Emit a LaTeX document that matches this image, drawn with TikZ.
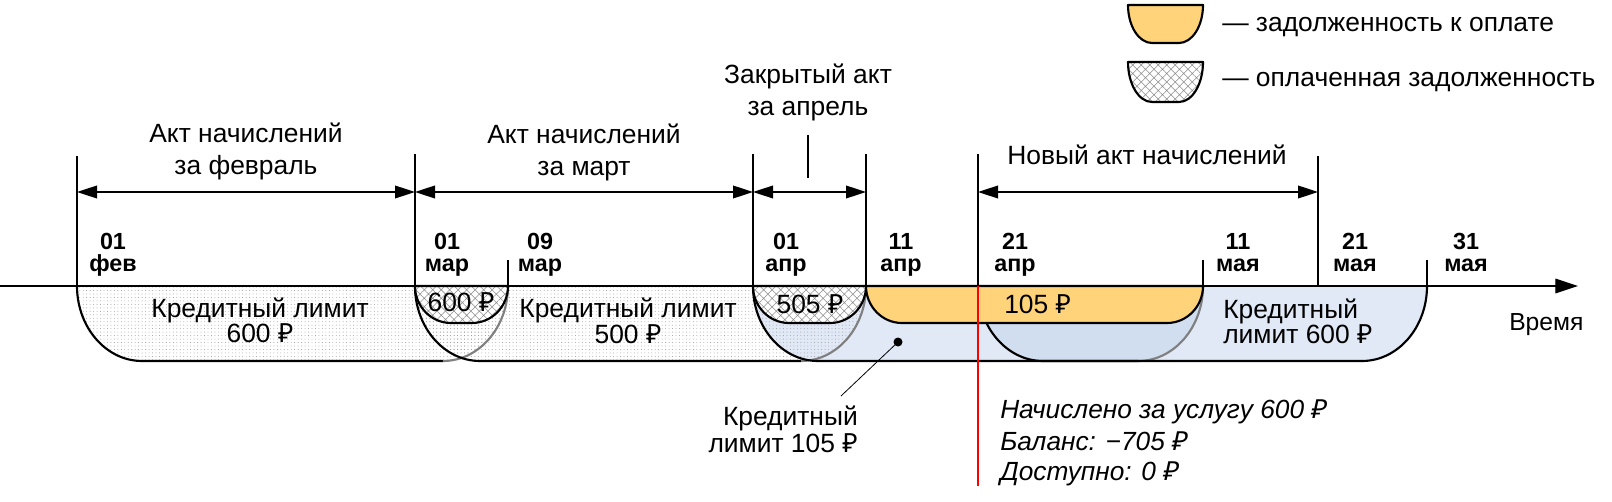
\documentclass[tikz,border=0pt]{standalone}
\usepackage{fontspec}
\setmainfont{Liberation Sans}
\newfontfamily\rubfont{Noto Sans}
\newcommand{\rub}{{\rubfont ₽}}
\usetikzlibrary{arrows.meta,patterns.meta}
\definecolor{debt}{RGB}{255,211,122}
\definecolor{lim}{RGB}{225,233,246}
\definecolor{limdark}{RGB}{209,222,240}
% x1 x2 ytop depth rx
\newcommand{\bowlpath}[5]{({#1},{#3}) .. controls ({#1},{#3+0.552*#4}) and ({#1+0.448*#5},{#3+#4}) .. ({#1+#5},{#3+#4}) -- ({#2-#5},{#3+#4}) .. controls ({#2-0.448*#5},{#3+#4}) and ({#2},{#3+0.552*#4}) .. ({#2},{#3}) -- cycle}
\newcommand{\bowlleft}[5]{({#1},{#3}) .. controls ({#1},{#3+0.552*#4}) and ({#1+0.448*#5},{#3+#4}) .. ({#1+#5},{#3+#4}) -- ({#2-#5},{#3+#4})}
\newcommand{\bowlright}[5]{({#2-#5},{#3+#4}) .. controls ({#2-0.448*#5},{#3+#4}) and ({#2},{#3+0.552*#4}) .. ({#2},{#3})}
\begin{document}
\begin{tikzpicture}[x=0.75pt,y=-0.75pt,
  lbl/.style={font=\fontsize{19.8}{22}\selectfont, inner sep=0pt, anchor=base},
  leglbl/.style={font=\fontsize{19.8}{22}\selectfont, inner sep=0pt, anchor=base west},
  itl/.style={font=\fontsize{19.7}{22}\selectfont\itshape, inner sep=0pt, anchor=base west},
  datelbl/.style={font=\fontsize{17.5}{18}\selectfont\bfseries, inner sep=0pt, anchor=base},
  ext/.style={line width=1.2pt},
  dim/.style={line width=1.2pt, {Triangle[length=15pt,width=9.5pt]}-{Triangle[length=15pt,width=9.5pt]}},
  outl/.style={line width=1.6pt, line join=round},
  farc/.style={line width=1.6pt, gray},
  dotfill/.style={pattern={Dots[distance=2.6pt,radius=0.35pt]}, pattern color=gray!80},
  hatchfill/.style={pattern={Hatch[angle=45,distance=4.5pt,line width=0.4pt]}, pattern color=gray!90},
]
\useasboundingbox (0,0) rectangle (1612,502);

% date coordinates on the axis
\coordinate (feb1) at (77,286);
\coordinate (mar1) at (415,286);
\coordinate (mar9) at (508,286);
\coordinate (apr1) at (753,286);
\coordinate (apr11) at (866,286);
\coordinate (apr21) at (978,286);
\coordinate (may11) at (1203,286);
\coordinate (may21) at (1318,286);
\coordinate (may31) at (1427,286);
\coordinate (axstart) at (0,286);
\coordinate (axend) at (1578,286);
\coordinate (arrY) at (0,192);

% credit limit fills (blue)
\fill[lim] \bowlpath{753}{1203}{286}{75}{65};
\fill[lim] \bowlpath{978}{1427}{286}{75}{65};
\begin{scope}
  \clip \bowlpath{753}{1203}{286}{75}{65};
  \fill[limdark] \bowlpath{978}{1427}{286}{75}{65};
\end{scope}
% dotted credit limits
\path[dotfill] \bowlpath{77}{508}{286}{75}{65};
\path[dotfill] \bowlpath{415}{866}{286}{75}{65};

% outlines of credit limits
\draw[outl] \bowlleft{77}{508}{286}{75}{65};
\draw[farc] \bowlright{77}{508}{286}{75}{65};
\draw[outl] \bowlleft{415}{866}{286}{75}{65};
\draw[farc] \bowlright{415}{866}{286}{75}{65};
\draw[outl] \bowlleft{753}{1203}{286}{75}{65};
\draw[farc] \bowlright{753}{1203}{286}{75}{65};
\draw[outl] \bowlleft{978}{1427}{286}{75}{65};
\draw[outl] \bowlright{978}{1427}{286}{75}{65};

% paid debts
\fill[white] \bowlpath{415}{508}{286}{37}{36};
\path[hatchfill] \bowlpath{415}{508}{286}{37}{36};
\draw[outl] \bowlpath{415}{508}{286}{37}{36};
\fill[white] \bowlpath{753}{866}{286}{37}{36};
\path[hatchfill] \bowlpath{753}{866}{286}{37}{36};
\draw[outl] \bowlpath{753}{866}{286}{37}{36};
% debt to pay
\draw[outl, fill=debt] \bowlpath{866}{1203}{286}{37}{36};

% time axis
\draw[line width=0.8pt, -{Triangle[length=17pt,width=11pt]}] (axstart) -- (axend);
\draw[line width=1.6pt] (feb1) -- (may31);

% extension lines
\draw[ext] (feb1) -- ++(0,-130);
\draw[ext] (mar1) -- ++(0,-132);
\draw[ext] (apr1) -- ++(0,-132);
\draw[ext] (apr11) -- ++(0,-132);
\draw[ext] (apr21) -- ++(0,-132);
\draw[ext] (may21) -- ++(0,-130);
\draw[ext] (mar9) -- ++(0,-26);
\draw[ext] (may11) -- ++(0,-26);
\draw[ext] (may31) -- ++(0,-26);
\draw[ext] (808,135) -- (808,178);
\draw[red, line width=1.5pt] (apr21) -- ++(0,200);

% dimension arrows
\draw[dim] (feb1 |- arrY) -- (mar1 |- arrY);
\draw[dim] (mar1 |- arrY) -- (apr1 |- arrY);
\draw[dim] (apr1 |- arrY) -- (apr11 |- arrY);
\draw[dim] (apr21 |- arrY) -- (may21 |- arrY);

% top labels
\node[lbl] (tfeb1) at (246,143) {Акт начислений};
\node[lbl] (tfeb2) at (246,175) {за февраль};
\node[lbl] (tmar1) at (584,144) {Акт начислений};
\node[lbl] (tmar2) at (584,176) {за март};
\node[lbl] (tapr1) at (808,84) {Закрытый акт};
\node[lbl] (tapr2) at (808,116) {за апрель};
\node[lbl] (tnew) at (1147,165) {Новый акт начислений};

% date labels
\foreach \n/\x/\d/\m in {a/113/01/фев, b/447/01/мар, c/540/09/мар, d/786/01/апр, e/901/11/апр, f/1015/21/апр, g/1238/11/мая, h/1355/21/мая, i/1466/31/мая}{
  \node[datelbl] (day\n) at (\x,250) {\d};
  \node[datelbl] (mon\n) at (\x,272) {\m};
}

% labels inside shapes
\node[lbl] (lfeb1) at (260,317) {Кредитный лимит};
\node[lbl] (lfeb2) at (260,342) {600 \rub};
\node[lbl] (p600) at (461,311) {600 \rub};
\node[lbl] (lmar1) at (628,317) {Кредитный лимит};
\node[lbl] (lmar2) at (628,343) {500 \rub};
\node[lbl] (p505) at (810,313) {505 \rub};
\node[lbl, anchor=base west] (d105) at (1004,313) {105 \rub};
\node[lbl, anchor=base west] (lmay1) at (1223,318) {Кредитный};
\node[lbl, anchor=base west] (lmay2) at (1223,343) {лимит 600 \rub};
\node[lbl, anchor=base west, font=\fontsize{18.5}{22}\selectfont] (time) at (1509,330) {Время};

% pointer to credit limit 105
\node[lbl, anchor=base east] (l105a) at (858,425) {Кредитный};
\node[lbl, anchor=base east] (l105b) at (858,452) {лимит 105 \rub};
\coordinate (dot) at (898,342);
\coordinate (ptrend) at (841,396);
\fill (dot) circle[radius=4.5];
\draw[line width=0.6pt] (dot) -- (ptrend);

% italic notes
\node[itl] (n1) at (1000,418) {Начислено за услугу 600 \rub};
\node[itl] (n2) at (1000,450) {Баланс: −705 \rub};
\node[itl] (n3) at (1000,480) {Доступно: 0 \rub};

% legend
\draw[outl, fill=debt] \bowlpath{1128}{1203}{5}{38}{24};
\fill[white] \bowlpath{1128}{1203}{62}{40}{24};
\path[hatchfill] \bowlpath{1128}{1203}{62}{40}{24};
\draw[outl] \bowlpath{1128}{1203}{62}{40}{24};
\node[leglbl] (leg1) at (1222,32) {— задолженность к оплате};
\node[leglbl] (leg2) at (1222,87) {— оплаченная задолженность};
\end{tikzpicture}
\end{document}
